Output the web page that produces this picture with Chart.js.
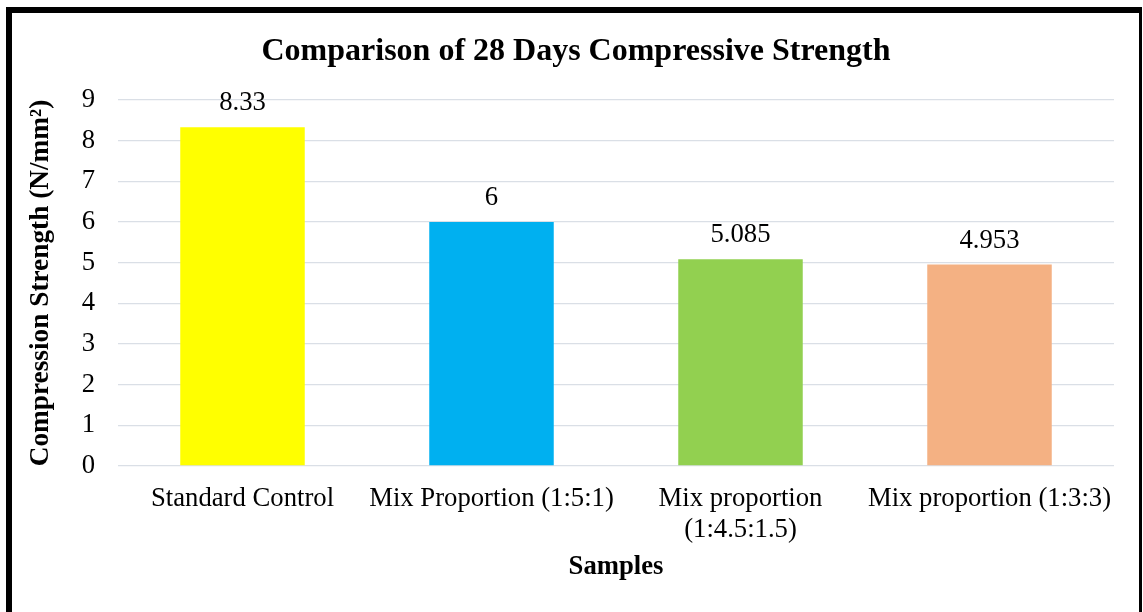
<!DOCTYPE html>
<html>
<head>
<meta charset="utf-8">
<title>Comparison of 28 Days Compressive Strength</title>
<script src="https://cdn.jsdelivr.net/npm/chart.js@4/dist/chart.umd.min.js"></script>
<style>
  html, body { margin: 0; padding: 0; background: #ffffff; }
  canvas { display: block; }
</style>
</head>
<body>
<canvas id="chart" width="1143" height="612"></canvas>
<script>
// Sample names (multi-line labels are arrays)
const categories = [
  'Standard Control',
  'Mix Proportion (1:5:1)',
  ['Mix proportion', '(1:4.5:1.5)'],
  'Mix proportion (1:3:3)'
];
// 28-day compressive strength, N/mm²
const strengthValues = [8.33, 6, 5.085, 4.953];
const barColors = ['#FFFF00', '#00B0F0', '#92D050', '#F4B183'];
// Value axis ticks
const yMin = 0;
const yMax = 9;
const yStep = 1;

const serif = "'Liberation Serif', 'Times New Roman', serif";
const labelSize = 26.7;

Chart.defaults.font.family = serif;
Chart.defaults.color = '#000000';

// Writes each bar's value above it
const valueLabels = {
  id: 'valueLabels',
  afterDatasetsDraw(chart) {
    const ctx = chart.ctx;
    const meta = chart.getDatasetMeta(0);
    ctx.save();
    ctx.font = labelSize + 'px ' + serif;
    ctx.fillStyle = '#000000';
    ctx.textAlign = 'center';
    ctx.textBaseline = 'alphabetic';
    meta.data.forEach((bar, i) => {
      ctx.fillText(String(strengthValues[i]), bar.x, bar.y - 17);
    });
    ctx.restore();
  }
};

// Centre the title over the whole framed figure, not just the plot
const titleSpan = {
  id: 'titleSpan',
  afterLayout(chart) {
    const t = chart.titleBlock;
    if (t) {
      t.left = 10;
      t.right = chart.width - 1;
      t.width = t.right - t.left;
    }
  }
};

// Black frame around the figure
const frame = {
  id: 'frame',
  afterDraw(chart) {
    const ctx = chart.ctx;
    const w = chart.width, h = chart.height;
    ctx.save();
    ctx.fillStyle = '#000000';
    ctx.fillRect(6, 7, w - 4 - 6, 6);   // top
    ctx.fillRect(6, 7, 6, h - 7);       // left
    ctx.fillRect(w - 4, 7, 3, h - 7);   // right
    ctx.restore();
  }
};

new Chart(document.getElementById('chart'), {
  type: 'bar',
  data: {
    labels: categories,
    datasets: [{
      data: strengthValues,
      backgroundColor: barColors,
      borderWidth: 0,
      barPercentage: 0.5,
      categoryPercentage: 1.0
    }]
  },
  options: {
    responsive: false,
    animation: false,
    devicePixelRatio: 1,
    layout: { padding: { top: 13, left: 12, right: 29, bottom: 0 } },
    plugins: {
      legend: { display: false },
      tooltip: { enabled: false },
      title: {
        display: true,
        text: 'Comparison of 28 Days Compressive Strength',
        color: '#000000',
        font: { family: serif, size: 32, weight: 'bold', lineHeight: 1.2 },
        padding: { top: 20, bottom: 28.6 }
      }
    },
    scales: {
      x: {
        grid: { display: false, drawTicks: false },
        border: { display: false },
        ticks: {
          color: '#000000',
          font: { family: serif, size: labelSize, lineHeight: 1.15 },
          padding: 18,
          maxRotation: 0,
          minRotation: 0,
          autoSkip: false
        },
        title: {
          display: true,
          text: 'Samples',
          color: '#000000',
          font: { family: serif, size: labelSize, weight: 'bold', lineHeight: 1.2 },
          padding: { top: 0, bottom: 29 }
        },
        afterFit(scale) { scale.height = 146; }
      },
      y: {
        min: yMin,
        max: yMax,
        ticks: {
          stepSize: yStep,
          color: '#000000',
          font: { family: serif, size: labelSize },
          padding: 23
        },
        grid: { color: '#DADFE6', lineWidth: 1.3, drawTicks: false },
        border: { display: false },
        title: {
          display: true,
          text: 'Compression Strength (N/mm²)',
          color: '#000000',
          font: { family: serif, size: 27.3, weight: 'bold', lineHeight: 1.2 },
          padding: { top: 13, bottom: 0 }
        },
        afterFit(scale) { scale.width = 106; }
      }
    }
  },
  plugins: [valueLabels, titleSpan, frame]
});
</script>
</body>
</html>
